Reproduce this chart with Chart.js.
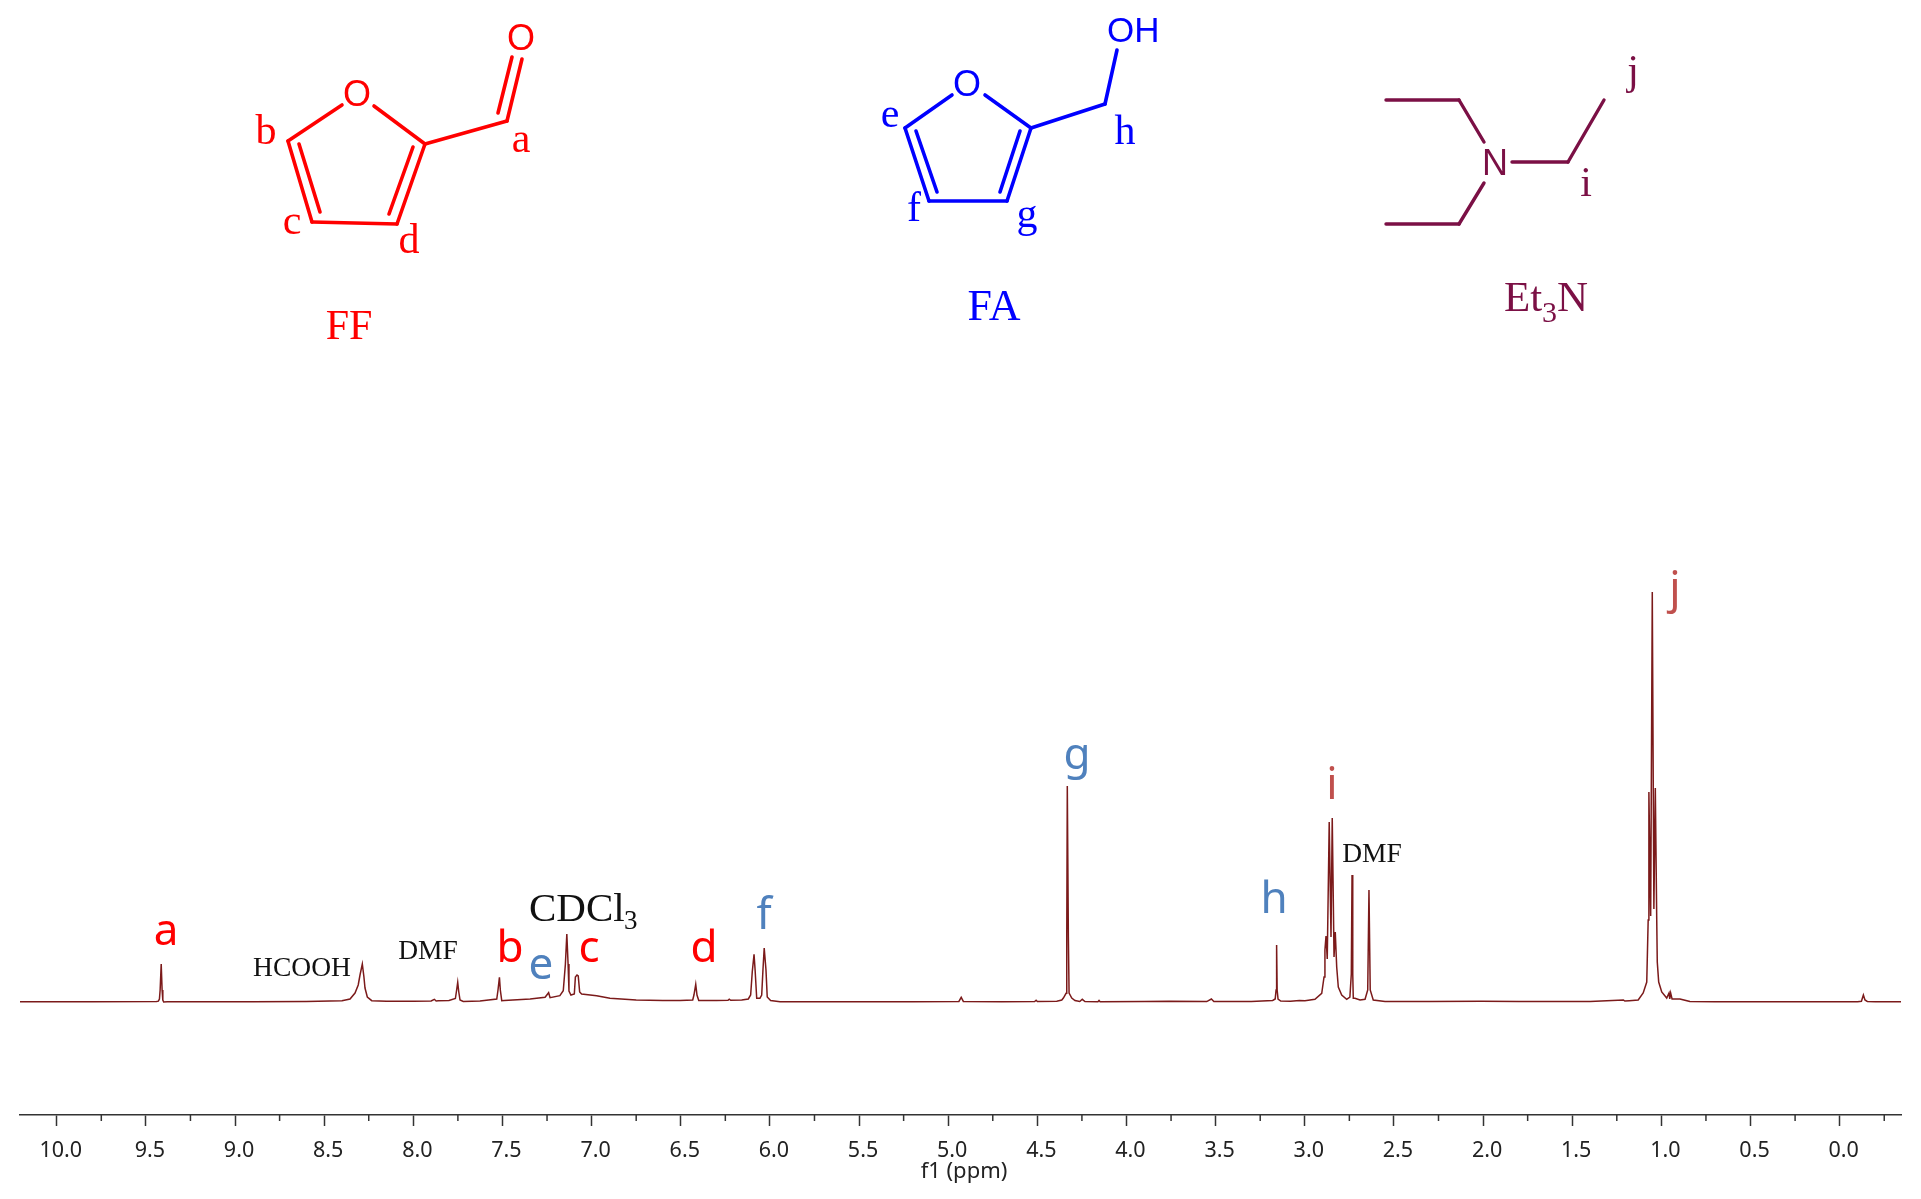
<!DOCTYPE html>
<html>
<head>
<meta charset="utf-8">
<title>1H NMR</title>
<script src="https://cdn.jsdelivr.net/npm/chart.js@4/dist/chart.umd.min.js"></script>
<style>
    html, body { margin: 0; padding: 0; background: #fff; }
    canvas { display: block; }
</style>
</head>
<body>
<canvas id="nmr" width="1921" height="1199"></canvas>
<script>
// values, left to right (ppm runs backwards)
var ppmValues = [
    10.21, 9.80, 9.44, 9.43, 9.424, 9.42, 9.414, 9.409, 9.405, 9.40, 9.38, 8.90, 8.60, 8.40,
    8.355, 8.327, 8.309, 8.299, 8.286, 8.277, 8.271, 8.258, 8.233, 8.15, 8.00,
    7.90, 7.882, 7.872, 7.86, 7.80, 7.764, 7.757, 7.751, 7.745, 7.738, 7.72, 7.626,
    7.532, 7.525, 7.517, 7.512, 7.504, 7.49, 7.345, 7.261, 7.241, 7.233, 7.178, 7.159,
    7.147, 7.139, 7.132, 7.127, 7.116, 7.097, 7.091, 7.082, 7.075, 7.067, 7.056, 6.972,
    6.897, 6.75, 6.60, 6.504,
    6.433, 6.426, 6.416, 6.409, 6.399, 6.30, 6.235, 6.228, 6.22, 6.158, 6.121, 6.108,
    6.099, 6.089, 6.083, 6.074, 6.056, 6.046, 6.039, 6.032, 6.022, 6.015, 5.996, 5.943,
    5.70, 5.20, 4.94, 4.927, 4.915, 4.70, 4.515, 4.507, 4.50, 4.391, 4.363, 4.354,
    4.339, 4.335, 4.332, 4.326, 4.322, 4.307, 4.289, 4.262, 4.248, 4.233, 4.16, 4.154,
    4.148, 3.90, 3.76, 3.55, 3.524, 3.51, 3.30, 3.18, 3.166, 3.161, 3.158, 3.155, 3.15, 3.135,
    3.08, 3.03, 2.999, 2.943, 2.905, 2.892, 2.887, 2.881, 2.874, 2.863, 2.853, 2.846,
    2.836, 2.829, 2.821, 2.812, 2.793, 2.765, 2.747, 2.739, 2.735, 2.731, 2.728, 2.719,
    2.690, 2.662, 2.647, 2.640, 2.633, 2.616, 2.55, 2.30, 2.01, 1.80, 1.40, 1.213, 1.205, 1.18,
    1.13, 1.102, 1.082, 1.074, 1.070, 1.060, 1.051, 1.042, 1.034, 1.026, 1.023, 1.015,
    0.998, 0.970, 0.957, 0.953, 0.948, 0.940, 0.896, 0.84, 0.70, 0.30, -0.10, -0.122,
    -0.133, -0.142, -0.155, -0.20, -0.345
];
var intensityValues = [
    0.3, 0.3, 0.4, 0.8, 3, 12, 38, 12, 2, 0, 0.2, 0.3, 0.6, 1.2,
    3, 9, 17, 27, 38, 25, 14, 5, 1.3, 0.7, 0.8,
    1, 2.7, 1, 1.2, 1.5, 3.5, 12, 19.7, 10, 2, 0.5, 1,
    3, 12, 24.7, 12, 1.3, 1.5, 3, 4.7, 9.3, 4.3, 6.3, 11.3,
    38, 68, 38, 11, 7, 8, 25, 27, 26, 10, 8, 6.3,
    3.7, 2, 1.5, 1.5,
    2, 7, 17.7, 7, 1.5, 1.5, 1.7, 2.8, 1.7, 2, 3, 7,
    30, 47.7, 32, 3.7, 3.7, 7, 32, 54, 32, 5, 1.5, 0.3,
    0.2, 0.2, 0.6, 4.7, 0.6, 0.2, 0.5, 1.7, 0.5, 0.8, 2, 4,
    8.7, 65, 216, 65, 9, 4, 1.5, 0.5, 2.7, 0.5, 0.3, 1.5,
    0.3, 0.4, 0.8, 0.4, 3, 0.4, 0.6, 1.5, 3, 12, 57, 12, 3, 1,
    0.8, 1.5, 1.3, 2.7, 8.7, 25, 52, 66, 43, 180, 65, 184,
    45, 70, 35, 15, 7, 2.7, 5, 28, 127, 28, 3.7, 3.7,
    2, 2.7, 12, 112, 12, 2, 0.5, 0.5, 0.8, 0.6, 0.6, 2, 1, 1.3,
    2, 9, 20, 82, 210, 86, 410, 93, 214, 82, 40, 20,
    10, 4, 9, 3, 9, 3, 3, 0.5, 0.3, 0.2, 0.3, 0.8,
    7, 2, 0.6, 0.2, 0.2
];

var majorTickValues = [10, 9.5, 9, 8.5, 8, 7.5, 7, 6.5, 6, 5.5, 5, 4.5, 4, 3.5, 3, 2.5, 2, 1.5, 1, 0.5, 0];
var majorTickLabels = ["10.0", "9.5", "9.0", "8.5", "8.0", "7.5", "7.0", "6.5", "6.0", "5.5", "5.0", "4.5", "4.0", "3.5", "3.0", "2.5", "2.0", "1.5", "1.0", "0.5", "0.0"];
var minorTickValues = [9.75, 9.25, 8.75, 8.25, 7.75, 7.25, 6.75, 6.25, 5.75, 5.25, 4.75, 4.25, 3.75, 3.25, 2.75, 2.25, 1.75, 1.25, 0.75, 0.25, -0.25];

// peak letters: text, centre x, baseline y, colour
var peakLetters = [
    ["a", 166, 945, "#ff0000"], ["b", 510, 962, "#ff0000"], ["c", 589, 962, "#ff0000"], ["d", 704, 962, "#ff0000"],
    ["e", 541, 979, "#4f81bd"], ["f", 764, 929, "#4f81bd"], ["g", 1077, 769, "#4f81bd"], ["h", 1274, 913, "#4f81bd"],
    ["i", 1332, 799, "#c0504d"], ["j", 1675, 603, "#c0504d"]
];
var solventLabels = [
    ["HCOOH", 302, 976], ["DMF", 428, 959], ["DMF", 1372, 862]
];

// the three molecules above the spectrum, x1 y1 x2 y2
var ffBonds = [
    [342, 105, 288, 141], [288, 141, 312, 222], [299, 144, 320, 212], [312, 222, 397, 224], [397, 224, 425, 144],
    [389, 214, 413, 147], [374, 106, 425, 144], [425, 144, 507, 121], [507, 121, 522, 59], [498, 113, 512, 57]
];
var faBonds = [
    [952, 95, 905, 128], [905, 128, 929, 201], [916, 131, 937, 192], [929, 201, 1007, 201], [1007, 201, 1031, 128],
    [1000, 192, 1020, 131], [985, 95, 1031, 128], [1031, 128, 1105, 104], [1105, 104, 1117, 50]
];
var amineBonds = [
    [1386, 100, 1459, 100], [1459, 100, 1484, 142], [1484, 183, 1459, 224], [1459, 224, 1386, 224],
    [1512, 162, 1568, 162], [1568, 162, 1604, 100]
];
var ffLetters = [["b", 266, 144], ["a", 521, 152], ["c", 292, 234], ["d", 409, 253], ["FF", 349, 339]];
var faLetters = [["e", 890, 127], ["f", 914, 221], ["g", 1027, 227], ["h", 1125, 144]];
var amineLetters = [["j", 1633, 84], ["i", 1586, 196]];

var serif = '"Liberation Serif", serif';
var sans = '"Liberation Sans", sans-serif';

function drawBonds(ctx, bonds, color, width){
    ctx.strokeStyle = color;
    ctx.lineWidth = width;
    ctx.lineCap = "round";
    bonds.forEach(function(b){
        ctx.beginPath();
        ctx.moveTo(b[0], b[1]);
        ctx.lineTo(b[2], b[3]);
        ctx.stroke();
    });
}

function drawText(ctx, text, x, y, font, color, align){
    ctx.font = font;
    ctx.fillStyle = color;
    ctx.textAlign = align || "center";
    ctx.textBaseline = "alphabetic";
    ctx.fillText(text, x, y);
}

var extras = {
    id: "extras",
    afterDraw: function(chart){
        var ctx = chart.ctx;
        var xAxis = chart.scales.x;
        ctx.save();

        // short ticks between the numbered ones
        ctx.strokeStyle = "#333";
        ctx.lineWidth = 1.5;
        minorTickValues.forEach(function(v){
            var px = xAxis.getPixelForValue(v);
            ctx.beginPath();
            ctx.moveTo(px, xAxis.top);
            ctx.lineTo(px, xAxis.top + 6);
            ctx.stroke();
        });

        // sits a little right of the axis centre in the original
        drawText(ctx, "f1 (ppm)", 964, 1178, "22px 'Noto Sans'", "#222");

        peakLetters.forEach(function(l){
            drawText(ctx, l[0], l[1], l[2], "44px 'Noto Sans'", l[3]);
        });
        solventLabels.forEach(function(l){
            drawText(ctx, l[0], l[1], l[2], "27.5px " + serif, "#111");
        });
        drawText(ctx, "CDCl", 529, 921, "41px " + serif, "#111", "left");
        drawText(ctx, "3", 624, 929, "27px " + serif, "#111", "left");

        drawBonds(ctx, ffBonds, "#ff0000", 3.6);
        ffLetters.forEach(function(l){ drawText(ctx, l[0], l[1], l[2], "42px " + serif, "#ff0000"); });
        drawText(ctx, "O", 357, 106, "36px " + sans, "#ff0000");
        drawText(ctx, "O", 521, 50, "36px " + sans, "#ff0000");

        drawBonds(ctx, faBonds, "#0000ff", 3.6);
        faLetters.forEach(function(l){ drawText(ctx, l[0], l[1], l[2], "42px " + serif, "#0000ff"); });
        drawText(ctx, "FA", 994, 320, "44px " + serif, "#0000ff");
        drawText(ctx, "O", 967, 96, "36px " + sans, "#0000ff");
        drawText(ctx, "OH", 1107, 42, "35px " + sans, "#0000ff", "left");

        drawBonds(ctx, amineBonds, "#7b1045", 3.4);
        amineLetters.forEach(function(l){ drawText(ctx, l[0], l[1], l[2], "42px " + serif, "#7b1045"); });
        drawText(ctx, "N", 1495, 175, "36px " + sans, "#7b1045");
        drawText(ctx, "Et", 1504, 311, "43px " + serif, "#7b1045", "left");
        drawText(ctx, "3", 1542, 322, "30px " + serif, "#7b1045", "left");
        drawText(ctx, "N", 1557, 311, "43px " + serif, "#7b1045", "left");

        ctx.restore();
    }
};

function createChart(){
    var canvas = document.querySelector("#nmr").getContext("2d");
    var points = ppmValues.map(function(p, i){
        return {x: p, y: intensityValues[i]};
    });

    new Chart(canvas, {
        type: "line",
        data: {
            datasets: [{
                data: points,
                borderColor: "#7b1a1a",
                borderWidth: 1.5,
                pointRadius: 0,
                tension: 0,
                fill: false
            }]
        },
        plugins: [extras],
        options: {
            responsive: false,
            animation: false,
            layout: {padding: {left: 20, right: 20, top: 560, bottom: 0}},
            plugins: {
                legend: {display: false},
                tooltip: {enabled: false}
            },
            scales: {
                x: {
                    type: "linear",
                    reverse: true,
                    min: -0.344,
                    max: 10.206,
                    afterBuildTicks: function(scale){
                        scale.ticks = majorTickValues.map(function(v){ return {value: v}; });
                    },
                    afterFit: function(scale){
                        scale.height = 84;
                    },
                    border: {display: true, color: "#333", width: 1.5},
                    grid: {drawOnChartArea: false, drawTicks: true, tickLength: 11, tickColor: "#333", tickWidth: 1.5},
                    ticks: {
                        autoSkip: false,
                        maxRotation: 0,
                        padding: 12,
                        labelOffset: 4,
                        color: "#222",
                        font: {family: "Noto Sans", size: 21.5},
                        callback: function(value){
                            return majorTickLabels[majorTickValues.indexOf(value)];
                        }
                    }
                },
                y: {
                    display: false,
                    min: -113,
                    max: 442
                }
            }
        }
    });
}

createChart();
</script>
</body>
</html>
